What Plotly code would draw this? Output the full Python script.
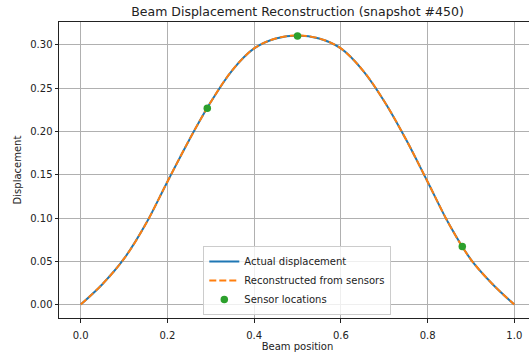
import plotly.graph_objects as go

# Data
positions = [0.00, 0.05, 0.10, 0.15, 0.20, 0.25, 0.30, 0.35, 0.40, 0.45, 0.50,
             0.55, 0.60, 0.65, 0.70, 0.75, 0.80, 0.85, 0.90, 0.95, 1.00]
actual = [0.000, 0.0235, 0.053, 0.093, 0.142, 0.190, 0.234, 0.271, 0.296, 0.3075, 0.311,
          0.3075, 0.296, 0.271, 0.235, 0.191, 0.142, 0.0925, 0.052, 0.0235, 0.000]
reconstructed = [0.000, 0.0235, 0.053, 0.093, 0.142, 0.190, 0.234, 0.271, 0.296, 0.3075, 0.311,
                 0.3075, 0.296, 0.271, 0.235, 0.191, 0.142, 0.0925, 0.052, 0.0235, 0.000]
sensor_x = [0.292, 0.500, 0.880]
sensor_y = [0.227, 0.3104, 0.067]
x_ticks = [0.0, 0.2, 0.4, 0.6, 0.8, 1.0]
y_ticks = [0.00, 0.05, 0.10, 0.15, 0.20, 0.25, 0.30]

font = "DejaVu Sans"
fig = go.Figure()
fig.add_trace(go.Scatter(x=positions, y=actual, mode="lines", name="Actual displacement",
                         line=dict(color="#1f77b4", width=2, shape="spline")))
fig.add_trace(go.Scatter(x=positions, y=reconstructed, mode="lines", name="Reconstructed from sensors",
                         line=dict(color="#ff7f0e", width=2, dash="7px,3px", shape="spline")))
fig.add_trace(go.Scatter(x=sensor_x, y=sensor_y, mode="markers", name="Sensor locations",
                         marker=dict(color="#2ca02c", size=7.5)))

axis_common = dict(showline=True, mirror=True, linecolor="#222222", linewidth=1,
                   showgrid=True, gridcolor="#b0b0b0", gridwidth=0.8, zeroline=False,
                   ticks="outside", ticklen=3.5, tickcolor="#222222", tickwidth=0.8,
                   tickfont=dict(family=font, size=10, color="#222222"))

fig.update_layout(
    width=536, height=358,
    margin=dict(l=59, r=0, t=21.5, b=39.7),
    paper_bgcolor="white", plot_bgcolor="white",
    title=dict(text="Beam Displacement Reconstruction (snapshot #450)",
               font=dict(family=font, size=12.5, color="#222222"),
               x=(59 + 536) / 2 / 536, xanchor="center", y=1 - 12 / 358, yanchor="middle"),
    xaxis=dict(range=[-0.05, 1.05], tickvals=x_ticks, tickformat=".1f", ticklabelstandoff=4,
               title=dict(text="Beam position", font=dict(family=font, size=10, color="#222222"), standoff=3),
               **axis_common),
    yaxis=dict(range=[-0.01555, 0.32655], tickvals=y_ticks, tickformat=".2f",
               title=dict(text="Displacement", font=dict(family=font, size=10, color="#222222"), standoff=6),
               **axis_common),
    legend=dict(x=0.3025, y=0.01, xanchor="left", yanchor="bottom",
                bgcolor="rgba(255,255,255,0.8)", bordercolor="#cccccc", borderwidth=1,
                font=dict(family=font, size=10, color="#222222"), tracegroupgap=0),
    showlegend=True,
)
fig.write_html("out.html")
